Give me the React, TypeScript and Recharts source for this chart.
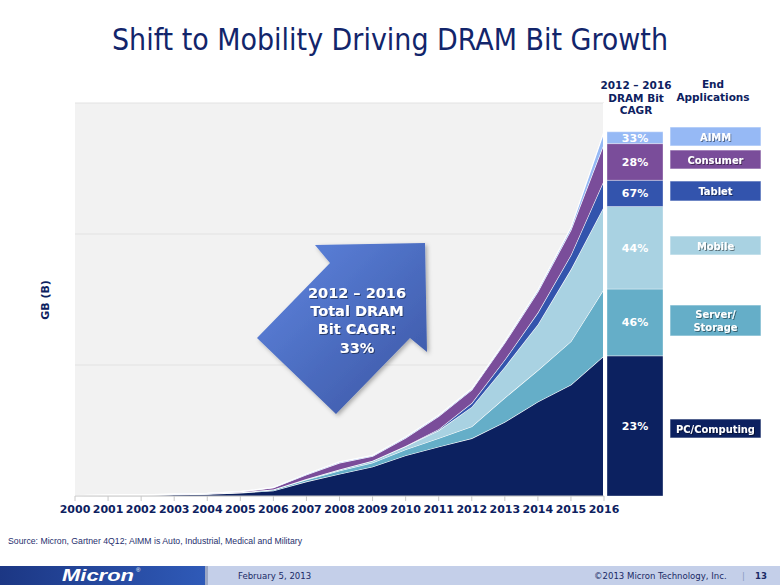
import React from "react";
import { AreaChart, Area, XAxis, YAxis, CartesianGrid, ReferenceLine, BarChart, Bar, LabelList } from "recharts";

// values in chart units (one gridline step = 1)
const years = [2000, 2001, 2002, 2003, 2004, 2005, 2006, 2007, 2008, 2009, 2010, 2011, 2012, 2013, 2014, 2015, 2016];
const pcComputing = [0.002, 0.004, 0.006, 0.01, 0.015, 0.024, 0.04, 0.11, 0.168, 0.224, 0.31, 0.376, 0.44, 0.565, 0.72, 0.85, 1.07];
const serverStorage = [0.001, 0.001, 0.001, 0.002, 0.002, 0.004, 0.008, 0.015, 0.025, 0.03, 0.045, 0.065, 0.09, 0.185, 0.24, 0.33, 0.51];
const mobile = [0, 0, 0, 0.001, 0.001, 0.001, 0.002, 0.005, 0.01, 0.015, 0.025, 0.06, 0.15, 0.235, 0.35, 0.55, 0.63];
const tablet = [0, 0, 0, 0, 0, 0, 0, 0, 0, 0, 0.001, 0.008, 0.03, 0.055, 0.09, 0.11, 0.2];
const consumer = [0.0005, 0.001, 0.001, 0.001, 0.002, 0.004, 0.013, 0.033, 0.05, 0.035, 0.062, 0.1, 0.1, 0.13, 0.16, 0.19, 0.28];
const aimm = [0, 0, 0, 0.0005, 0.001, 0.001, 0.003, 0.005, 0.007, 0.006, 0.007, 0.008, 0.008, 0.01, 0.012, 0.02, 0.09];
const cagr = ["23%", "46%", "44%", "67%", "28%", "33%"];

const series = [
  { key: "pc", name: "PC/Computing", values: pcComputing, color: "#0c2160" },
  { key: "server", name: "Server/Storage", values: serverStorage, color: "#65aec8" },
  { key: "mobile", name: "Mobile", values: mobile, color: "#a9d2e2" },
  { key: "tablet", name: "Tablet", values: tablet, color: "#3354ad" },
  { key: "consumer", name: "Consumer", values: consumer, color: "#7a4d9a" },
  { key: "aimm", name: "AIMM", values: aimm, color: "#96b9f5" },
];

const areaData = years.map((year, i) => {
  const row: any = { year };
  series.forEach((s) => (row[s.key] = s.values[i]));
  return row;
});

const last = years.length - 1;
const barRow: any = { name: String(years[last]) };
series.forEach((s, i) => {
  barRow[s.key] = s.values[last];
  barRow[s.key + "Cagr"] = cagr[i];
});
const barData = [barRow];

const navy = "#0d2160";
const boldFont = "'DejaVu Sans', Verdana, sans-serif";
const condFont = "'DejaVu Sans Condensed', 'DejaVu Sans', sans-serif";

// legend boxes on the right: [label lines, top, bottom, colour]
const legendBoxes: [string[], number, number, string][] = [
  [["AIMM"], 127, 146, "#96b9f5"],
  [["Consumer"], 150, 169, "#7a4d9a"],
  [["Tablet"], 181, 201, "#3354ad"],
  [["Mobile"], 236, 255, "#a9d2e2"],
  [["Server/", "Storage"], 305, 336, "#65aec8"],
  [["PC/Computing"], 419, 438, "#0c2160"],
];

export default function App() {
  return (
    <div style={{ position: "absolute", left: 0, top: 0, width: 780, height: 585, background: "#fff", overflow: "hidden" }}>
      <div style={{ position: "absolute", left: 0, top: 0 }}>
        <AreaChart width={780} height={585} data={areaData} margin={{ top: 103, right: 176, bottom: 59, left: 75 }}>
          <CartesianGrid vertical={false} fill="#f2f2f2" stroke="#e2e2e2" />
          <XAxis
            dataKey="year"
            type="number"
            domain={[2000, 2016]}
            ticks={years}
            interval={0}
            height={30}
            tickSize={5}
            tickMargin={4}
            stroke="#c8c8c8"
            tick={{ fill: navy, fontSize: 11, fontWeight: "bold", fontFamily: boldFont }}
          />
          <YAxis hide domain={[0, 3]} ticks={[0, 1, 2, 3]} />
          {series.map((s) => (
            <Area
              key={s.key}
              type="linear"
              dataKey={s.key}
              stackId="1"
              fill={s.color}
              fillOpacity={1}
              stroke="#ffffff"
              strokeWidth={1.2}
              isAnimationActive={false}
            />
          ))}
          <ReferenceLine x={2016} stroke="#ffffff" strokeWidth={2} />
        </AreaChart>
      </div>

      <div style={{ position: "absolute", left: 607, top: 0 }}>
        <BarChart width={56} height={585} data={barData} margin={{ top: 103, right: 0, bottom: 89, left: 0 }} barCategoryGap={0}>
          <XAxis dataKey="name" hide />
          <YAxis hide domain={[0, 3]} />
          {series.map((s) => (
            <Bar key={s.key} dataKey={s.key} stackId="b" fill={s.color} stroke="rgba(255,255,255,0.35)" strokeWidth={1} isAnimationActive={false}>
              <LabelList
                dataKey={s.key + "Cagr"}
                position="center"
                fill="#ffffff"
                fontSize={11}
                fontWeight="bold"
                fontFamily={boldFont}
              />
            </Bar>
          ))}
        </BarChart>
      </div>

      <svg width={780} height={585} style={{ position: "absolute", left: 0, top: 0, pointerEvents: "none" }}>
        <defs>
          <linearGradient id="arrowGrad" x1="0" y1="0" x2="1" y2="1">
            <stop offset="0%" stopColor="#5f86e0" />
            <stop offset="100%" stopColor="#3a55a3" />
          </linearGradient>
          <linearGradient id="logoGrad" x1="0" y1="0" x2="1" y2="0">
            <stop offset="0%" stopColor="#1c3784" />
            <stop offset="100%" stopColor="#2f5ab8" />
          </linearGradient>
          <filter id="shadow" x="-10%" y="-10%" width="130%" height="130%">
            <feDropShadow dx="2" dy="2" stdDeviation="2" floodColor="#000" floodOpacity="0.3" />
          </filter>
          <filter id="txtShadow" x="-10%" y="-30%" width="130%" height="160%">
            <feDropShadow dx="1" dy="1" stdDeviation="0.6" floodColor="#000" floodOpacity="0.45" />
          </filter>
        </defs>

        <text x={390} y={50} textAnchor="middle" fontFamily={condFont} fontSize={30} fill="#12256b" textLength={556} lengthAdjust="spacingAndGlyphs">
          Shift to Mobility Driving DRAM Bit Growth
        </text>

        <text transform="translate(49,300) rotate(-90)" textAnchor="middle" fontFamily={boldFont} fontWeight="bold" fontSize={11} fill={navy}>
          GB (B)
        </text>

        <polygon
          points="425,243 427,352 410,338 336,414 257,338 330,263 315,245"
          fill="url(#arrowGrad)"
          filter="url(#shadow)"
        />
        <g fontFamily={boldFont} fontWeight="bold" fontSize={14.5} fill="#ffffff" textAnchor="middle" filter="url(#txtShadow)">
          <text x={357} y={298}>2012 – 2016</text>
          <text x={357} y={316}>Total DRAM</text>
          <text x={357} y={334}>Bit CAGR:</text>
          <text x={357} y={353}>33%</text>
        </g>

        <g fontFamily={boldFont} fontWeight="bold" fontSize={10.5} fill={navy} textAnchor="middle">
          <text x={636} y={89}>2012 – 2016</text>
          <text x={636} y={102}>DRAM Bit</text>
          <text x={636} y={114}>CAGR</text>
          <text x={713} y={88}>End</text>
          <text x={713} y={101}>Applications</text>
        </g>

        {legendBoxes.map(([lines, top, bottom, color]) => {
          const mid = (top + bottom) / 2;
          return (
            <g key={lines.join("")}>
              <rect x={670} y={top} width={91} height={bottom - top} fill={color} stroke="rgba(255,255,255,0.6)" />
              {lines.map((ln, j) => (
                <text
                  key={ln}
                  x={715.5}
                  y={mid + 4 + (j - (lines.length - 1) / 2) * 13}
                  textAnchor="middle"
                  fontFamily={condFont}
                  fontWeight="bold"
                  fontSize={11}
                  fill="#ffffff"
                  filter="url(#txtShadow)"
                >
                  {ln}
                </text>
              ))}
            </g>
          );
        })}

        <text x={8} y={544} fontFamily="'Liberation Sans', Arial, sans-serif" fontSize={9} fill="#1f2f6e" textLength={294} lengthAdjust="spacingAndGlyphs">
          Source: Micron, Gartner 4Q12; AIMM is Auto, Industrial, Medical and Military
        </text>

        <rect x={0} y={566} width={780} height={19} fill="#c4cfe9" />
        <rect x={0} y={566} width={205} height={19} fill="url(#logoGrad)" />
        <rect x={205} y={566} width={3} height={19} fill="#9aa6c4" />
        <text x={62} y={581} fontFamily="'Liberation Sans', Arial, sans-serif" fontWeight="bold" fontSize={16} fill="#ffffff" fontStyle="italic" textLength={72} lengthAdjust="spacingAndGlyphs">
          Micron
        </text>
        <text x={136} y={572} fontFamily="'Liberation Sans', Arial, sans-serif" fontSize={6} fill="#ffffff">®</text>
        <g fontFamily="'DejaVu Sans Condensed', 'DejaVu Sans', sans-serif" fontSize={9.5} fill="#1a2a66">
          <text x={238} y={579}>February 5, 2013</text>
          <text x={594} y={579}>©2013 Micron Technology, Inc.</text>
          <text x={742} y={579} fill="#8a9ac0">|</text>
          <text x={755} y={579} fontWeight="bold">13</text>
        </g>
      </svg>
    </div>
  );
}
